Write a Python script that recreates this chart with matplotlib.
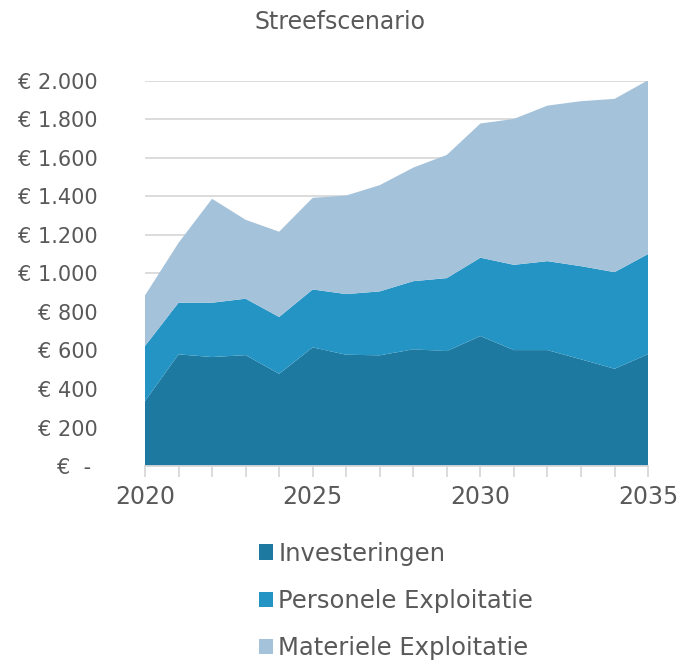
import matplotlib
matplotlib.use("Agg")
import matplotlib.pyplot as plt
from matplotlib.patches import Patch
from matplotlib.ticker import FuncFormatter, MultipleLocator
import numpy as np

years = list(range(2020, 2036))
investeringen = [337, 580, 566, 576, 479, 616, 578, 575, 606, 597, 675, 602, 602, 554, 505, 581]
tot_personeel = [623, 848, 848, 869, 774, 917, 893, 907, 960, 976, 1082, 1045, 1064, 1038, 1007, 1101]
tot_materieel = [886, 1159, 1388, 1279, 1217, 1393, 1405, 1459, 1550, 1616, 1779, 1803, 1872, 1895, 1907, 2004]

personeel = list(np.array(tot_personeel) - np.array(investeringen))
materieel = list(np.array(tot_materieel) - np.array(tot_personeel))

labels = ["Investeringen", "Personele Exploitatie", "Materiele Exploitatie"]
colors = ["#1e79a1", "#2494c4", "#a4c2da"]
grey = "#595959"

fig = plt.figure(figsize=(6.79, 6.61), dpi=100)
ax = fig.add_axes([0.2135, 0.295, 0.741, 0.5825])

ax.stackplot(years, investeringen, personeel, materieel, colors=colors,
             edgecolor="none", zorder=2)

ax.set_xlim(2020, 2035)
ax.set_ylim(0, 2000)
ax.yaxis.set_major_locator(MultipleLocator(200))
ax.xaxis.set_major_locator(MultipleLocator(5))
ax.xaxis.set_minor_locator(MultipleLocator(1))


def euro(v, pos):
    if v == 0:
        return "€  - "
    return "€ " + f"{int(v):,}".replace(",", ".")


ax.yaxis.set_major_formatter(FuncFormatter(euro))
ax.grid(axis="y", color="#d9d9d9", lw=1.3, zorder=0)
ax.set_axisbelow(True)

for s in ["top", "right", "left"]:
    ax.spines[s].set_visible(False)
ax.spines["bottom"].set_color("#d9d9d9")
ax.spines["bottom"].set_linewidth(1.3)

ax.tick_params(axis="y", length=0, pad=34, labelsize=15, labelcolor=grey)
ax.tick_params(axis="x", which="both", length=8, width=1.3, color="#d9d9d9",
               labelsize=17, labelcolor=grey, pad=6)

fig.text(0.5, 0.967, "Streefscenario", ha="center", va="center",
         fontsize=17, color=grey)

handles = [Patch(facecolor=c, edgecolor="none") for c in colors]
leg = fig.legend(handles, labels, loc="center", bbox_to_anchor=(0.583, 0.091),
                 frameon=False, fontsize=17.5, handlelength=0.6, handleheight=0.6,
                 handletextpad=0.2, labelspacing=0.95)
for t in leg.get_texts():
    t.set_color(grey)

fig.savefig("out.png", dpi=100)
